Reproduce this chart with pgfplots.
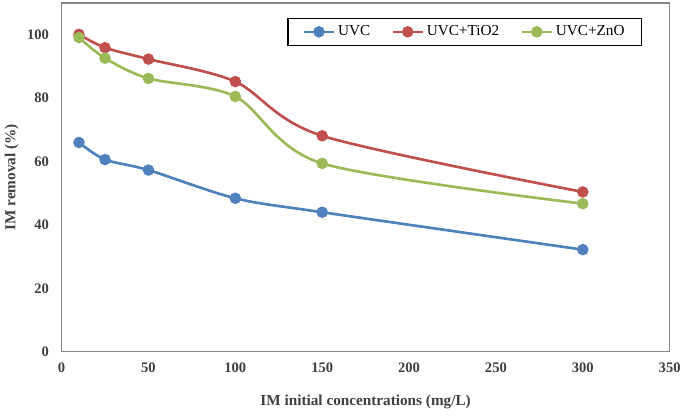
\documentclass[border=0pt]{standalone}
\usepackage{pgfplots}
\pgfplotsset{compat=1.18}
\usepackage{fontspec}
\setmainfont{Liberation Serif}

\definecolor{uvcblue}{HTML}{4F81BD}
\definecolor{tiored}{HTML}{C0504D}
\definecolor{zngreen}{HTML}{9BBB59}
\definecolor{axgray}{HTML}{868686}
\definecolor{txtgray}{HTML}{404040}

\begin{document}
\begin{tikzpicture}
% 1 px of the reference = 0.75pt
\begin{axis}[
  at={(0,0)}, anchor=south west,
  scale only axis,
  width=459pt, height=263.25pt,
  xmin=0, xmax=350, ymin=0, ymax=110,
  xtick={0,50,...,350},
  ytick={0,20,...,100},
  major tick length=0pt,
  axis line style={axgray, line width=0.9pt},
  /pgf/number format/assume math mode=true,
  ticklabel style={font=\fontsize{11}{13}\selectfont\bfseries, text=txtgray},
  xticklabel style={yshift=-5pt},
  yticklabel style={xshift=-6pt},
  xlabel={IM initial concentrations (mg/L)},
  ylabel={IM removal (\%)},
  label style={font=\fontsize{11.5}{13}\selectfont\bfseries, text=txtgray},
  xlabel style={at={(axis description cs:0.5,-0.145)}, anchor=center},
  ylabel style={at={(axis description cs:-0.082,0.5)}, anchor=center},
  legend columns=3,
  legend style={at={(rel axis cs:0.955,0.957)}, anchor=north east,
    draw=black, line width=0.8pt, font=\fontsize{11.5}{13}\selectfont,
    inner xsep=11pt, inner ysep=3.5pt,
    /tikz/every even column/.append style={column sep=14pt}},
  legend image code/.code={
    \draw[#1, mark repeat=2, mark phase=2] plot coordinates {(0cm,0cm) (0.4cm,0cm) (0.8cm,0cm)};},
  every axis plot/.append style={line width=2pt, smooth, tension=0.5,
    mark=*, mark size=3.3pt},
]
\addplot[uvcblue, mark options={fill=uvcblue, draw=uvcblue}] coordinates {
  (10,66.0) (25,60.6) (50,57.3) (100,48.4) (150,44.0) (300,32.2)};
\addlegendentry{UVC}
\addplot[tiored, mark options={fill=tiored, draw=tiored}] coordinates {
  (10,100.1) (25,95.9) (50,92.3) (100,85.2) (150,68.1) (300,50.4)};
\addlegendentry{UVC+TiO2}
\addplot[zngreen, mark options={fill=zngreen, draw=zngreen}] coordinates {
  (10,99.1) (25,92.6) (50,86.2) (100,80.5) (150,59.4) (300,46.7)};
\addlegendentry{UVC+ZnO}
\end{axis}
\path[use as bounding box] (-46.5pt,-48pt) rectangle (467.25pt,265.5pt);
\end{tikzpicture}
\end{document}
